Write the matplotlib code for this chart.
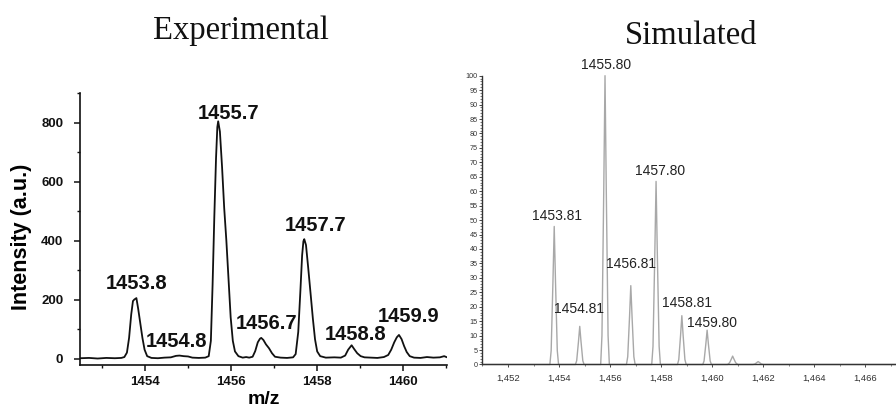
import matplotlib
matplotlib.use("Agg")
import matplotlib.pyplot as plt
from matplotlib.ticker import MultipleLocator, FuncFormatter

# ---- Experimental spectrum (trace) ----
exp_mz = [1452.50, 1452.70, 1452.90, 1453.10, 1453.30, 1453.45, 1453.52, 1453.58,
          1453.63, 1453.68, 1453.72, 1453.75, 1453.80, 1453.84, 1453.89, 1453.94,
          1453.99, 1454.05, 1454.15, 1454.30, 1454.45, 1454.60, 1454.72, 1454.80,
          1454.90, 1455.00, 1455.10, 1455.25, 1455.40, 1455.48, 1455.53, 1455.57,
          1455.61, 1455.65, 1455.68, 1455.70, 1455.74, 1455.79, 1455.84, 1455.89,
          1455.94, 1455.99, 1456.04, 1456.09, 1456.17, 1456.27, 1456.35, 1456.42,
          1456.50, 1456.56, 1456.62, 1456.67, 1456.70, 1456.75, 1456.81, 1456.88,
          1456.95, 1457.02, 1457.15, 1457.30, 1457.44, 1457.50, 1457.56, 1457.61,
          1457.65, 1457.68, 1457.70, 1457.74, 1457.79, 1457.85, 1457.90, 1457.95,
          1458.00, 1458.07, 1458.20, 1458.40, 1458.55, 1458.65, 1458.72, 1458.80,
          1458.86, 1458.93, 1459.01, 1459.10, 1459.25, 1459.40, 1459.55, 1459.65,
          1459.72, 1459.79, 1459.85, 1459.90, 1459.96, 1460.02, 1460.08, 1460.15,
          1460.25, 1460.40, 1460.55, 1460.70, 1460.85, 1460.95, 1461.00]
exp_int = [1, 2, 0, 2, 1, 2, 5, 20,
           70, 150, 195, 200, 205, 170, 120, 70,
           30, 8, 2, 1, 3, 4, 9, 10,
           8, 7, 3, 2, 3, 8, 60, 250,
           480, 680, 785, 805, 770, 650, 510, 400,
           270, 140, 60, 24, 8, 3, 5, 3,
           6, 25, 55, 67, 70, 63, 48, 35,
           18, 6, 3, 2, 4, 15, 90, 230,
           350, 398, 405, 385, 310, 215, 135, 65,
           24, 8, 3, 4, 3, 10, 30, 45,
           32, 18, 8, 4, 3, 2, 5, 12,
           30, 55, 72, 80, 66, 42, 22, 8,
           3, 2, 5, 3, 4, 8, 5]
exp_peak_mz = [1453.8, 1454.8, 1455.7, 1456.7, 1457.7, 1458.8, 1459.9]
exp_peak_int = [205, 10, 805, 70, 405, 45, 80]
exp_peak_labels = ["1453.8", "1454.8", "1455.7", "1456.7", "1457.7", "1458.8", "1459.9"]

# ---- Simulated isotope pattern (relative abundance, %) ----
sim_mz = [1451.00,
          1453.64, 1453.69, 1453.76, 1453.81, 1453.86, 1453.93, 1453.98,
          1454.64, 1454.69, 1454.76, 1454.81, 1454.86, 1454.93, 1454.98,
          1455.63, 1455.68, 1455.75, 1455.80, 1455.85, 1455.92, 1455.97,
          1456.64, 1456.69, 1456.76, 1456.81, 1456.86, 1456.93, 1456.98,
          1457.63, 1457.68, 1457.75, 1457.80, 1457.85, 1457.92, 1457.97,
          1458.64, 1458.69, 1458.76, 1458.81, 1458.86, 1458.93, 1458.98,
          1459.63, 1459.68, 1459.75, 1459.80, 1459.85, 1459.92, 1459.97,
          1460.60, 1460.68, 1460.75, 1460.80, 1460.85, 1460.92, 1461.00,
          1461.60, 1461.68, 1461.75, 1461.80, 1461.85, 1461.92, 1462.00,
          1467.20]
sim_int = [0.0,
           0.0, 4.8, 28.7, 47.8, 28.7, 4.8, 0.0,
           0.0, 1.3, 7.9, 13.2, 7.9, 1.3, 0.0,
           0.0, 10.0, 60.0, 100.0, 60.0, 10.0, 0.0,
           0.0, 2.7, 16.4, 27.3, 16.4, 2.7, 0.0,
           0.0, 6.3, 38.0, 63.4, 38.0, 6.3, 0.0,
           0.0, 1.7, 10.1, 16.9, 10.1, 1.7, 0.0,
           0.0, 1.2, 7.1, 11.9, 7.1, 1.2, 0.0,
           0.0, 0.6, 1.9, 2.9, 1.9, 0.6, 0.0,
           0.0, 0.2, 0.7, 1.0, 0.7, 0.2, 0.0,
           0.0]
sim_peak_mz = [1453.81, 1454.81, 1455.80, 1456.81, 1457.80, 1458.81, 1459.80]
sim_peak_int = [47.8, 13.2, 100.0, 27.3, 63.4, 16.9, 11.9]
sim_peak_labels = ["1453.81", "1454.81", "1455.80", "1456.81", "1457.80", "1458.81", "1459.80"]

SANS = ["Liberation Sans", "DejaVu Sans"]
SERIF = ["Liberation Serif", "DejaVu Serif"]

fig = plt.figure(figsize=(8.96, 4.17), dpi=100)
fig.patch.set_facecolor("white")

# ================= Experimental panel =================
ax1 = fig.add_axes([0.0893, 0.1247, 0.4093, 0.6516])
ax1.plot(exp_mz, exp_int, color="#111111", lw=1.3, solid_joinstyle="round")
ax1.set_xlim(1452.49, 1461.01)
ax1.set_ylim(-22, 900)
for s in ("top", "right"):
    ax1.spines[s].set_visible(False)
for s in ("left", "bottom"):
    ax1.spines[s].set_linewidth(1.2)
    ax1.spines[s].set_color("#111111")
ax1.xaxis.set_major_locator(MultipleLocator(2))
ax1.xaxis.set_minor_locator(MultipleLocator(1))
ax1.yaxis.set_major_locator(MultipleLocator(200))
ax1.yaxis.set_minor_locator(MultipleLocator(100))
ax1.tick_params(which="major", direction="out", length=4, width=1.1, color="#111111")
ax1.tick_params(which="minor", direction="out", length=2.5, width=1.0, color="#111111")
ax1.tick_params(axis="y", which="major", pad=8)
ax1.tick_params(axis="x", which="major", pad=4)
for lab in ax1.get_xticklabels() + ax1.get_yticklabels():
    lab.set_fontfamily(SANS)
    lab.set_fontweight("bold")
    lab.set_fontsize(9.5)
    lab.set_color("#111111")
ax1.set_xlabel("m/z", family=SANS, fontweight="bold", fontsize=14, labelpad=2)
ax1.set_ylabel("Intensity (a.u.)", family=SANS, fontweight="bold", fontsize=15.5)
ax1.yaxis.set_label_coords(-0.132, 0.47)

exp_offsets = [(0, 15), (-3, 14), (10, 8), (5, 14), (11, 14), (4, 11), (10, 18)]
for mz, it, lab, off in zip(exp_peak_mz, exp_peak_int, exp_peak_labels, exp_offsets):
    ax1.annotate(lab, xy=(mz, it), xytext=off, textcoords="offset pixels",
                 ha="center", va="center", family=SANS, fontweight="bold",
                 fontsize=14.5, color="#111111", annotation_clip=False)

fig.text(240.5 / 896, 1 - 38.5 / 417, "Experimental", family=SERIF,
         fontsize=23.5, ha="center", va="baseline", color="#111111")

# ================= Simulated panel =================
ax2 = fig.add_axes([0.5385, 0.1259, 0.4615, 0.6926])
ax2.plot(sim_mz, sim_int, color="#a8a8a8", lw=1.0, clip_on=False)
ax2.set_xlim(1451.0, 1467.2)
ax2.set_ylim(0, 100)
for s in ("top", "right"):
    ax2.spines[s].set_visible(False)
for s in ("left", "bottom"):
    ax2.spines[s].set_linewidth(1.0)
    ax2.spines[s].set_color("#333333")
ax2.xaxis.set_major_locator(MultipleLocator(2))
ax2.xaxis.set_minor_locator(MultipleLocator(1))
ax2.yaxis.set_major_locator(MultipleLocator(5))
ax2.yaxis.set_minor_locator(MultipleLocator(1))
ax2.xaxis.set_major_formatter(FuncFormatter(lambda v, p: f"{v:,.0f}"))
ax2.tick_params(which="major", direction="out", length=2.5, width=0.7, color="#444444")
ax2.tick_params(which="minor", direction="out", length=1.3, width=0.5, color="#444444")
ax2.tick_params(axis="y", which="major", pad=1, labelsize=5.2, labelcolor="#333333")
ax2.tick_params(axis="x", which="major", pad=4, labelsize=6.8, labelcolor="#333333")
for lab in ax2.get_xticklabels() + ax2.get_yticklabels():
    lab.set_fontfamily(SANS)

sim_offsets = [(3, 10), (-1, 17), (1, 11), (0, 22), (4, 10), (5, 13), (5, 7)]
for mz, it, lab, off in zip(sim_peak_mz, sim_peak_int, sim_peak_labels, sim_offsets):
    ax2.annotate(lab, xy=(mz, it), xytext=off, textcoords="offset pixels",
                 ha="center", va="center", family=SANS, fontsize=10,
                 color="#222222", annotation_clip=False)

fig.text(691.2 / 896, 1 - 44.3 / 417, "Simulated", family=SERIF,
         fontsize=23.5, ha="center", va="baseline", color="#111111")

fig.savefig("out.png", dpi=100, facecolor="white")
